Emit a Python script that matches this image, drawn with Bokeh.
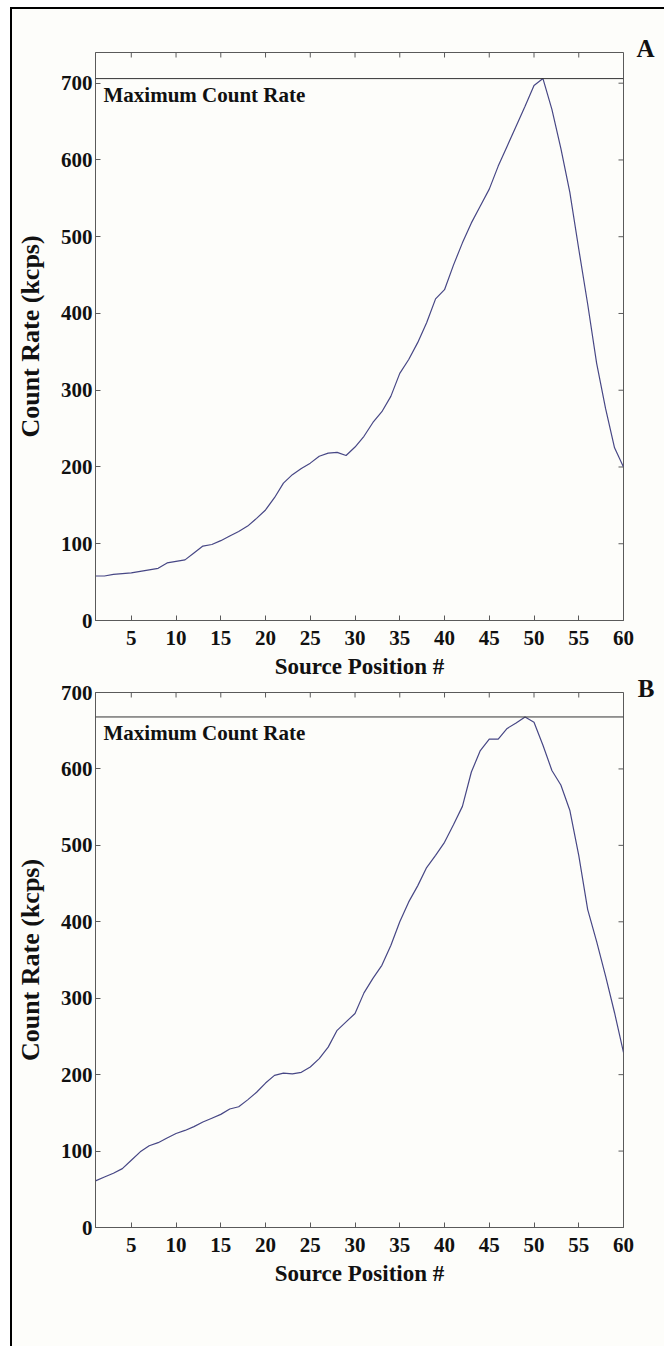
import math
from bokeh.plotting import figure
from bokeh.layouts import column
from bokeh.models import FixedTicker, Range1d, Label, Span, Title
from bokeh.embed import file_html
from bokeh.resources import INLINE

# ---- data ----
positions = list(range(1, 61))
count_rate_a = [58, 58, 60, 61, 62, 64, 66, 68, 75, 77,
                79, 88, 97, 99, 104, 110, 116, 123, 133, 144,
                160, 179, 190, 198, 205, 214, 218, 219, 215, 226,
                240, 258, 272, 292, 322, 340, 362, 388, 419, 431,
                463, 492, 518, 540, 562, 592, 618, 644, 670, 697,
                706, 666, 615, 558, 484, 412, 335, 276, 225, 200]
count_rate_b = [61, 66, 71, 77, 88, 99, 107, 111, 117, 123,
                127, 132, 138, 143, 148, 155, 158, 167, 177, 189,
                199, 202, 201, 203, 210, 221, 236, 258, 269, 280,
                307, 326, 343, 369, 400, 426, 447, 471, 487, 504,
                527, 551, 596, 624, 639, 639, 653, 660, 668, 661,
                631, 598, 579, 546, 487, 416, 374, 329, 281, 229]
max_rate_a = 706
max_rate_b = 668
y_top_a = 740
y_top_b = 700
x_ticks = [5, 10, 15, 20, 25, 30, 35, 40, 45, 50, 55, 60]
y_ticks = [0, 100, 200, 300, 400, 500, 600, 700]
panel_labels = ["A", "B"]
max_label = "Maximum Count Rate"
x_title = "Source Position #"
y_title = "Count Rate (kcps)"

FONT = "Liberation Serif"
BG = "#fdfdfa"
LINE_COLOR = "#474785"
AXIS_COLOR = "#5a5a5a"
TEXT_COLOR = "#111111"


def style_axis(ax):
    ax.axis_line_color = AXIS_COLOR
    ax.axis_line_width = 1
    ax.major_tick_in = 5
    ax.major_tick_out = 0
    ax.major_tick_line_color = AXIS_COLOR
    ax.minor_tick_line_color = None
    ax.major_label_text_font = FONT
    ax.major_label_text_font_style = "bold"
    ax.major_label_text_font_size = "21px"
    ax.major_label_text_color = TEXT_COLOR
    ax.axis_label_text_font = FONT
    ax.axis_label_text_font_style = "bold"
    ax.axis_label_text_color = TEXT_COLOR


def make_panel(ys, max_rate, y_top, tag, height, top_border, bottom_border, fill):
    p = figure(width=652, height=height, output_backend="svg", toolbar_location=None,
               x_range=Range1d(positions[0], positions[-1]), y_range=Range1d(0, y_top),
               min_border_left=83, min_border_right=41,
               min_border_top=top_border, min_border_bottom=bottom_border,
               background_fill_color=BG, border_fill_color=fill,
               outline_line_color=AXIS_COLOR, outline_line_width=1)
    p.grid.visible = False
    p.xaxis.ticker = FixedTicker(ticks=x_ticks)
    p.yaxis.ticker = FixedTicker(ticks=y_ticks)
    style_axis(p.xaxis[0])
    style_axis(p.yaxis[0])
    p.xaxis.axis_label = x_title
    p.yaxis.axis_label = y_title
    p.xaxis.axis_label_text_font_size = "23px"
    p.yaxis.axis_label_text_font_size = "26px"
    p.xaxis.major_label_standoff = 10
    p.xaxis.axis_label_standoff = 6
    p.yaxis.major_label_standoff = 3
    p.yaxis.axis_label_standoff = 13

    # inward ticks on the top and right edges of the box
    p.ray(x=x_ticks, y=[y_top] * len(x_ticks), length=5, length_units="screen",
          angle=-math.pi / 2, line_color=AXIS_COLOR, line_width=1)
    p.ray(x=[positions[-1]] * len(y_ticks), y=y_ticks, length=5, length_units="screen",
          angle=math.pi, line_color=AXIS_COLOR, line_width=1)

    p.add_layout(Span(location=max_rate, dimension="width", line_color="#333333", line_width=1))
    p.line(positions, ys, line_color=LINE_COLOR, line_width=1.2)

    p.add_layout(Label(x=positions[0], y=max_rate, x_offset=8, y_offset=-4, text=max_label,
                       text_font=FONT, text_font_style="bold", text_font_size="21px",
                       text_baseline="top", text_color=TEXT_COLOR))
    p.add_layout(Title(text=tag, align="right", vertical_align="middle", offset=-31,
                       standoff=-20, text_font=FONT, text_font_style="bold",
                       text_font_size="25px", text_color=TEXT_COLOR), "above")
    return p


pA = make_panel(count_rate_a, max_rate_a, y_top_a, panel_labels[0], 672, 43, 59, BG)
pB = make_panel(count_rate_b, max_rate_b, y_top_b, panel_labels[1], 685, 31, 119, None)
pB.margin = (-20, 0, 0, 0)

layout = column(pA, pB, spacing=0, margin=(7, 0, 0, 10),
                styles={"border-left": "2px solid #000", "border-top": "2px solid #000",
                        "background-color": BG})

open("out.html", "w").write(file_html(layout, INLINE))
